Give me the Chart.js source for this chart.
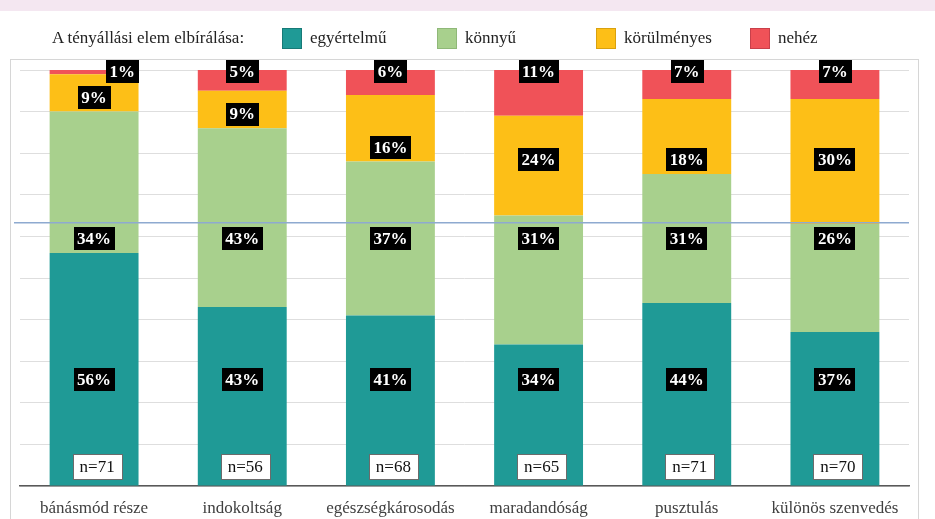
<!DOCTYPE html>
<html>
<head>
<meta charset="utf-8">
<script src="https://cdn.jsdelivr.net/npm/chart.js@4.4.1/dist/chart.umd.min.js"></script>
<style>
html,body{margin:0;padding:0;background:#fff;}
#wrap{position:relative;width:935px;height:519px;overflow:hidden;background:#fff;}
#band{position:absolute;left:0;top:0;width:935px;height:11px;background:#f4e7f1;}
#frame{position:absolute;left:10px;top:59px;width:907px;height:500px;border:1px solid #d6d6d6;}
#c{position:absolute;left:0;top:0;}
.leg{position:absolute;font-family:'Liberation Serif','Times New Roman',serif;font-size:17px;color:#222;line-height:20px;top:28px;white-space:nowrap;}
.sw{position:absolute;top:28px;width:20px;height:21px;box-sizing:border-box;}
</style>
</head>
<body>
<div id="wrap">
  <div id="band"></div>
  <div id="frame"></div>
  <canvas id="c" width="935" height="519"></canvas>
  <div id="legend"></div>
</div>
<script>
// ---- data ----
const categories = ['bánásmód része', 'indokoltság', 'egészségkárosodás', 'maradandóság', 'pusztulás', 'különös szenvedés'];
const seriesNames = ['egyértelmű', 'könnyű', 'körülményes', 'nehéz'];
const egyertelmu  = [56, 43, 41, 34, 44, 37];
const konnyu      = [34, 43, 37, 31, 31, 26];
const korulmenyes = [9, 9, 16, 24, 18, 30];
const nehez       = [1, 5, 6, 11, 7, 7];
const sampleSizes = [71, 56, 68, 65, 71, 70];
const legendTitle = 'A tényállási elem elbírálása:';
const referenceLine = 63.3;

// ---- styles / layout (kept apart from the data) ----
const colors = ['#1f9a96', '#a8d08d', '#fdbf17', '#f05258'];
const swatchBorders = ['#177a77', '#8fb878', '#d9a10e', '#c9404a'];
const legendSwatchX = [282, 437, 596, 750];
const serif = "'Liberation Serif','Times New Roman',serif";

// legend (HTML, real text)
(function(){
  const lg = document.getElementById('legend');
  const t = document.createElement('div');
  t.className = 'leg'; t.style.left = '52px'; t.textContent = legendTitle;
  lg.appendChild(t);
  seriesNames.forEach((n, i) => {
    const s = document.createElement('div');
    s.className = 'sw'; s.style.left = legendSwatchX[i] + 'px';
    s.style.background = colors[i]; s.style.border = '1px solid ' + swatchBorders[i];
    lg.appendChild(s);
    const l = document.createElement('div');
    l.className = 'leg'; l.style.left = (legendSwatchX[i] + 28) + 'px'; l.textContent = n;
    lg.appendChild(l);
  });
})();

const seriesValues = [egyertelmu, konnyu, korulmenyes, nehez];

const refLinePlugin = {
  id: 'refLine',
  afterDatasetsDraw(chart) {
    const {ctx, chartArea, scales} = chart;
    const y = scales.y.getPixelForValue(referenceLine);
    ctx.save();
    ctx.strokeStyle = '#8eaad0';
    ctx.lineWidth = 1.5;
    ctx.beginPath();
    ctx.moveTo(14, y);
    ctx.lineTo(chartArea.right, y);
    ctx.stroke();
    ctx.restore();
  }
};

const labelPlugin = {
  id: 'segLabels',
  afterDraw(chart) {
    const {ctx, scales} = chart;
    const ys = scales.y;
    ctx.save();
    ctx.textAlign = 'center';
    ctx.textBaseline = 'middle';
    // percentage labels
    ctx.font = 'bold 17px ' + serif;
    chart.data.datasets.forEach((ds, di) => {
      const meta = chart.getDatasetMeta(di);
      meta.data.forEach((bar, j) => {
        const v = ds.data[j];
        let base = 0;
        for (let k = 0; k < di; k++) base += chart.data.datasets[k].data[j];
        let yv;
        if (di === 0) yv = 25.6;
        else if (di === 1) yv = 59.5;
        else if (di === 2) yv = Math.max(78.5, base + 3.4);
        else yv = 99.6;
        const text = v + '%';
        const tw = ctx.measureText(text).width;
        const bw = tw + 7, bh = 23;
        let cx = bar.x;
        if (v < 3) cx = bar.x + bar.width / 2 - bw / 2;
        const cy = ys.getPixelForValue(yv);
        ctx.fillStyle = '#000';
        ctx.fillRect(Math.round(cx - bw / 2), Math.round(cy - bh / 2), Math.round(bw), bh);
        ctx.fillStyle = '#fff';
        ctx.fillText(text, cx, cy + 1);
      });
    });
    // sample size boxes
    ctx.font = '17px ' + serif;
    const meta0 = chart.getDatasetMeta(0);
    meta0.data.forEach((bar, j) => {
      const text = 'n=' + sampleSizes[j];
      const tw = ctx.measureText(text).width;
      const bw = tw + 14, bh = 25;
      const cx = bar.x + 3;
      const cy = ys.getPixelForValue(4.6);
      ctx.fillStyle = '#fff';
      ctx.fillRect(Math.round(cx - bw / 2) + 0.5, Math.round(cy - bh / 2) + 0.5, Math.round(bw), bh);
      ctx.strokeStyle = '#6b6b6b';
      ctx.lineWidth = 1;
      ctx.strokeRect(Math.round(cx - bw / 2) + 0.5, Math.round(cy - bh / 2) + 0.5, Math.round(bw), bh);
      ctx.fillStyle = '#111';
      ctx.fillText(text, cx, cy + 1);
    });
    ctx.restore();
  }
};

new Chart(document.getElementById('c'), {
  type: 'bar',
  data: {
    labels: categories,
    datasets: seriesValues.map((vals, i) => ({
      label: seriesNames[i],
      data: vals,
      backgroundColor: colors[i],
      borderWidth: 0,
      barPercentage: 0.6,
      categoryPercentage: 1.0
    }))
  },
  options: {
    responsive: false,
    animation: false,
    layout: {padding: {left: 20, right: 26, top: 70, bottom: 0}},
    plugins: {legend: {display: false}, tooltip: {enabled: false}},
    scales: {
      x: {
        stacked: true,
        grid: {display: false, drawTicks: false},
        border: {display: true, color: '#595959', width: 1.5},
        ticks: {font: {family: serif, size: 17}, color: '#404040', padding: 12, maxRotation: 0, autoSkip: false},
        afterFit: s => { s.height = 33; }
      },
      y: {
        stacked: true, min: 0, max: 100,
        ticks: {display: false, stepSize: 10},
        grid: {color: '#dedede', lineWidth: 1, drawTicks: false},
        border: {display: false},
        afterFit: s => { s.width = 0; }
      }
    }
  },
  plugins: [refLinePlugin, labelPlugin]
});
</script>
</body>
</html>
